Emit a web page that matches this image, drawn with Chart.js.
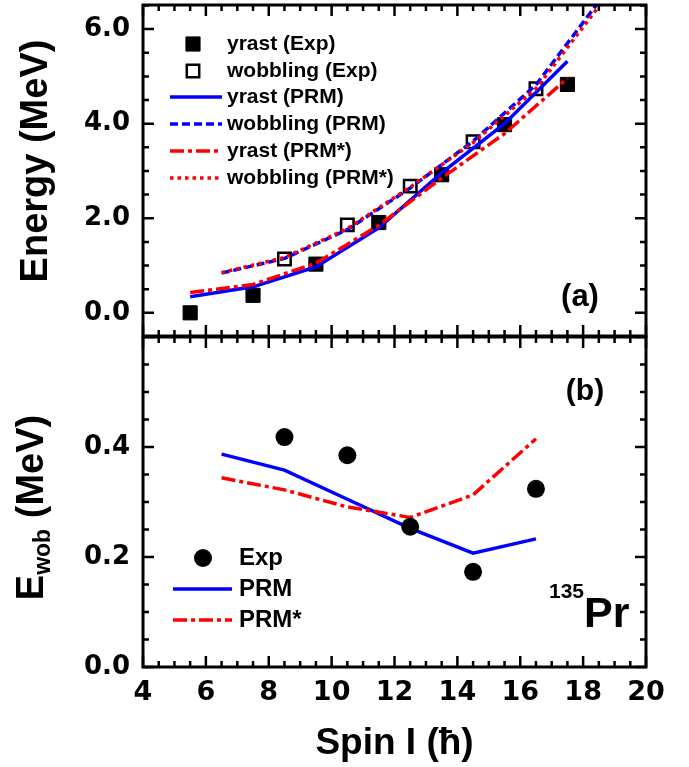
<!DOCTYPE html>
<html>
<head>
<meta charset="utf-8">
<title>135Pr wobbling</title>
<script src="https://cdn.jsdelivr.net/npm/chart.js@4.4.1/dist/chart.umd.min.js"></script>
<style>
  body { margin: 0; background: #fff; }
  #wrap { position: relative; width: 689px; height: 767px; }
  #topChart { position: absolute; left: 0; top: 0; }
  #botChart { position: absolute; left: 0; top: 330px; }
</style>
</head>
<body>
<div id="wrap">
  <canvas id="topChart" width="689" height="340"></canvas>
  <canvas id="botChart" width="689" height="437"></canvas>
</div>
<script>
'use strict';

// ******* DATA : panel (a) *******
let spinYrastExp = [5.5, 7.5, 9.5, 11.5, 13.5, 15.5, 17.5];
let yrastExp = [0.0, 0.37, 1.03, 1.91, 2.92, 3.98, 4.83];
let spinWobExp = [8.5, 10.5, 12.5, 14.5, 16.5];
let wobExp = [1.14, 1.86, 2.68, 3.62, 4.74];

let spinYrastCalc = [5.5, 7.5, 9.5, 11.5, 13.5, 15.5, 17.5];
let yrastPRM = [0.34, 0.55, 0.97, 1.80, 2.96, 4.00, 5.32];
let yrastPRMstar = [0.43, 0.60, 1.05, 1.85, 2.85, 3.79, 4.96];
let spinWobCalc = [6.5, 8.5, 10.5, 12.5, 14.5, 16.5, 18.5];
let wobPRM = [0.84, 1.15, 1.76, 2.64, 3.63, 4.82, 6.58];
let wobPRMstar = [0.85, 1.17, 1.78, 2.66, 3.60, 4.74, 6.48];

// ******* DATA : panel (b) *******
let spinEwob = [6.5, 8.5, 10.5, 12.5, 14.5, 16.5];
let ewobPRM = [0.387, 0.358, 0.305, 0.252, 0.207, 0.233];
let ewobPRMstar = [0.344, 0.322, 0.291, 0.272, 0.313, 0.415];
let spinEwobExp = [8.5, 10.5, 12.5, 14.5, 16.5];
let ewobExp = [0.418, 0.385, 0.255, 0.173, 0.324];

// ******* TICKS *******
let spinTicks = [4, 6, 8, 10, 12, 14, 16, 18, 20];
let energyTicks = [0, 2, 4, 6];
let ewobTicks = [0, 0.2, 0.4];

const FONT = "'Liberation Sans', Arial, sans-serif";
const TICKFONT = "'DejaVu Sans', sans-serif";

function pts(xs, ys) {
  return xs.map((x, i) => ({ x: x, y: ys[i] }));
}

// fixed axis sizes, no extra room for half tick labels
function fixY(s) {
  s.width = 143;
  s.paddingTop = 0;
  s.paddingBottom = 0;
}
function fixX(s) {
  s.height = 100;
  s.paddingLeft = 0;
  s.paddingRight = 0;
}

// draws the box and the inward ticks on all four sides
function frameTicks(xMinor, xMajor, yMinor, yMajor) {
  return {
    id: 'frameTicks',
    afterDraw(chart) {
      let ctx = chart.ctx;
      let a = chart.chartArea;
      let xs = chart.scales.x;
      let ys = chart.scales.y;
      ctx.save();
      ctx.strokeStyle = '#000';
      ctx.lineWidth = 2.5;
      ctx.beginPath();
      for (let v = Math.ceil(xs.min / xMinor - 1e-6) * xMinor; v <= xs.max + 1e-6; v += xMinor) {
        let px = xs.getPixelForValue(v);
        let major = Math.abs(v / xMajor - Math.round(v / xMajor)) < 1e-6;
        let len = major ? 11 : 6;
        ctx.moveTo(px, a.bottom); ctx.lineTo(px, a.bottom - len);
        ctx.moveTo(px, a.top); ctx.lineTo(px, a.top + len);
      }
      for (let v = Math.ceil(ys.min / yMinor - 1e-6) * yMinor; v <= ys.max + 1e-6; v += yMinor) {
        let py = ys.getPixelForValue(v);
        let major = Math.abs(v / yMajor - Math.round(v / yMajor)) < 1e-6;
        let len = major ? 11 : 6;
        ctx.moveTo(a.left, py); ctx.lineTo(a.left + len, py);
        ctx.moveTo(a.right, py); ctx.lineTo(a.right - len, py);
      }
      ctx.stroke();
      ctx.lineWidth = 3;
      ctx.strokeRect(a.left, a.top, a.right - a.left, a.bottom - a.top);
      ctx.restore();
    }
  };
}

// legend drawn inside the plot, taken from the dataset styles
function drawLegend(chart, items, font) {
  let ctx = chart.ctx;
  ctx.save();
  ctx.font = font;
  ctx.textBaseline = 'middle';
  ctx.textAlign = 'left';
  items.forEach(it => {
    let ds = chart.data.datasets[it.index];
    if (ds.showLine === false) {
      ctx.lineWidth = ds.borderWidth;
      ctx.strokeStyle = ds.borderColor;
      ctx.fillStyle = ds.backgroundColor;
      ctx.beginPath();
      if (ds.pointStyle === 'circle') {
        ctx.arc(it.mx, it.y, ds.pointRadius, 0, Math.PI * 2);
      } else {
        let h = ds.pointRadius * Math.SQRT1_2;
        ctx.rect(it.mx - h, it.y - h, 2 * h, 2 * h);
      }
      ctx.fill();
      if (ds.borderWidth > 0) ctx.stroke();
    } else {
      ctx.lineWidth = ds.borderWidth;
      ctx.strokeStyle = ds.borderColor;
      ctx.setLineDash(ds.borderDash || []);
      ctx.beginPath();
      ctx.moveTo(it.x0, it.y);
      ctx.lineTo(it.x1, it.y);
      ctx.stroke();
      ctx.setLineDash([]);
    }
    ctx.fillStyle = '#000';
    ctx.fillText(ds.label, it.tx, it.y);
  });
  ctx.restore();
}

// ******* PANEL (a) *******
let topCtx = document.getElementById('topChart').getContext('2d');

let topLabels = {
  id: 'topLabels',
  afterDraw(chart) {
    let ctx = chart.ctx;
    ctx.save();
    ctx.fillStyle = '#000';
    // y title
    ctx.translate(47, 161);
    ctx.rotate(-Math.PI / 2);
    ctx.font = 'bold 38px ' + FONT;
    ctx.textAlign = 'center';
    ctx.textBaseline = 'alphabetic';
    ctx.fillText('Energy (MeV)', 0, 0);
    ctx.restore();

    ctx.save();
    ctx.fillStyle = '#000';
    ctx.font = 'bold 31px ' + FONT;
    ctx.textAlign = 'center';
    ctx.textBaseline = 'middle';
    ctx.fillText('(a)', 580, 297);
    ctx.restore();

    drawLegend(chart, [
      { index: 0, mx: 193, y: 44, tx: 227 },
      { index: 1, mx: 193, y: 71, tx: 227 },
      { index: 2, x0: 170, x1: 222, y: 97, tx: 227 },
      { index: 3, x0: 170, x1: 222, y: 124, tx: 227 },
      { index: 4, x0: 170, x1: 222, y: 151, tx: 227 },
      { index: 5, x0: 170, x1: 222, y: 178, tx: 227 }
    ], 'bold 21px ' + FONT);
  }
};

let topChart = new Chart(topCtx, {
  type: 'line',
  data: {
    datasets: [
      {
        label: 'yrast (Exp)', data: pts(spinYrastExp, yrastExp), showLine: false,
        pointStyle: 'rect', pointRadius: 10, borderWidth: 1,
        backgroundColor: '#000', borderColor: '#000', order: 3
      },
      {
        label: 'wobbling (Exp)', data: pts(spinWobExp, wobExp), showLine: false,
        pointStyle: 'rect', pointRadius: 8.8, borderWidth: 2.5,
        backgroundColor: 'rgba(0,0,0,0)', borderColor: '#000', order: 3
      },
      {
        label: 'yrast (PRM)', data: pts(spinYrastCalc, yrastPRM),
        borderColor: '#0000ff', borderWidth: 3.5, pointRadius: 0, order: 2
      },
      {
        label: 'wobbling (PRM)', data: pts(spinWobCalc, wobPRM),
        borderColor: '#0000ff', borderWidth: 3.5, borderDash: [8, 4], pointRadius: 0, order: 2
      },
      {
        label: 'yrast (PRM*)', data: pts(spinYrastCalc, yrastPRMstar),
        borderColor: '#ff0000', borderWidth: 3.5, borderDash: [14, 4, 4, 4], pointRadius: 0, order: 1
      },
      {
        label: 'wobbling (PRM*)', data: pts(spinWobCalc, wobPRMstar),
        borderColor: '#ff0000', borderWidth: 3.5, borderDash: [3.5, 4], pointRadius: 0, order: 1
      }
    ]
  },
  options: {
    responsive: false,
    animation: false,
    layout: { autoPadding: false, padding: { top: 5, right: 43, bottom: 4, left: 0 } },
    plugins: { legend: { display: false }, tooltip: { enabled: false } },
    scales: {
      x: {
        type: 'linear', min: 4, max: 20, display: false
      },
      y: {
        type: 'linear', min: -0.49, max: 6.51,
        afterFit: fixY,
        afterBuildTicks: s => { s.ticks = energyTicks.map(v => ({ value: v })); },
        grid: { display: false, drawTicks: false },
        border: { display: false },
        ticks: {
          padding: 13, color: '#000',
          font: { family: TICKFONT, size: 26, weight: 'bold' },
          callback: v => v.toFixed(1)
        }
      }
    }
  },
  plugins: [frameTicks(0.5, 2, 0.5, 2), topLabels]
});

// ******* PANEL (b) *******
let botCtx = document.getElementById('botChart').getContext('2d');

let botLabels = {
  id: 'botLabels',
  afterDraw(chart) {
    let ctx = chart.ctx;
    // y title with subscript, page coords minus 330
    ctx.save();
    ctx.fillStyle = '#000';
    ctx.translate(43, 507.5 - 330);
    ctx.rotate(-Math.PI / 2);
    ctx.textBaseline = 'alphabetic';
    ctx.textAlign = 'left';
    let big = 'bold 38px ' + FONT;
    let small = 'bold 23px ' + FONT;
    ctx.font = big;
    let wE = ctx.measureText('E').width;
    let wR = ctx.measureText(' (MeV)').width;
    ctx.font = small;
    let wS = ctx.measureText('wob').width;
    let x = -(wE + wS + wR) / 2;
    ctx.font = big;
    ctx.fillText('E', x, 0);
    ctx.font = small;
    ctx.fillText('wob', x + wE, 7);
    ctx.font = big;
    ctx.fillText(' (MeV)', x + wE + wS, 0);
    ctx.restore();

    ctx.save();
    ctx.fillStyle = '#000';
    ctx.textBaseline = 'middle';
    ctx.textAlign = 'center';
    ctx.font = 'bold 30px ' + FONT;
    ctx.fillText('(b)', 585, 392 - 330);
    ctx.textBaseline = 'alphabetic';
    ctx.textAlign = 'right';
    ctx.font = 'bold 21px ' + FONT;
    ctx.fillText('135', 584, 598 - 330);
    ctx.textAlign = 'left';
    ctx.font = 'bold 43px ' + FONT;
    ctx.fillText('Pr', 584, 627 - 330);
    ctx.restore();

    drawLegend(chart, [
      { index: 0, mx: 203, y: 558 - 330, tx: 239 },
      { index: 2, x0: 173, x1: 232, y: 589 - 330, tx: 239 },
      { index: 1, x0: 173, x1: 232, y: 620 - 330, tx: 239 }
    ], 'bold 24px ' + FONT);
  }
};

let botChart = new Chart(botCtx, {
  type: 'line',
  data: {
    datasets: [
      {
        label: 'Exp', data: pts(spinEwobExp, ewobExp), showLine: false,
        pointStyle: 'circle', pointRadius: 9, borderWidth: 0,
        backgroundColor: '#000', borderColor: '#000', order: 0
      },
      {
        label: 'PRM*', data: pts(spinEwob, ewobPRMstar),
        borderColor: '#ff0000', borderWidth: 3.5, borderDash: [14, 4, 4, 4], pointRadius: 0, order: 1
      },
      {
        label: 'PRM', data: pts(spinEwob, ewobPRM),
        borderColor: '#0000ff', borderWidth: 3.5, pointRadius: 0, order: 2
      }
    ]
  },
  options: {
    responsive: false,
    animation: false,
    layout: { autoPadding: false, padding: { top: 7, right: 43, bottom: 0, left: 0 } },
    plugins: { legend: { display: false }, tooltip: { enabled: false } },
    scales: {
      x: {
        type: 'linear', min: 4, max: 20,
        afterFit: fixX,
        afterBuildTicks: s => { s.ticks = spinTicks.map(v => ({ value: v })); },
        grid: { display: false, drawTicks: false },
        border: { display: false },
        ticks: {
          padding: 10, color: '#000', maxRotation: 0, autoSkip: false,
          font: { family: TICKFONT, size: 27, weight: 'bold' }
        },
        title: {
          display: true, text: 'Spin I (ħ)', color: '#000',
          font: { family: FONT, size: 37, weight: 'bold' },
          padding: { top: 0, bottom: 1 }
        }
      },
      y: {
        type: 'linear', min: 0, max: 0.6,
        afterFit: fixY,
        afterBuildTicks: s => { s.ticks = ewobTicks.map(v => ({ value: v })); },
        grid: { display: false, drawTicks: false },
        border: { display: false },
        ticks: {
          padding: 13, color: '#000',
          font: { family: TICKFONT, size: 26, weight: 'bold' },
          callback: v => v.toFixed(1)
        }
      }
    }
  },
  plugins: [frameTicks(0.5, 2, 0.05, 0.2), botLabels]
});
</script>
</body>
</html>
